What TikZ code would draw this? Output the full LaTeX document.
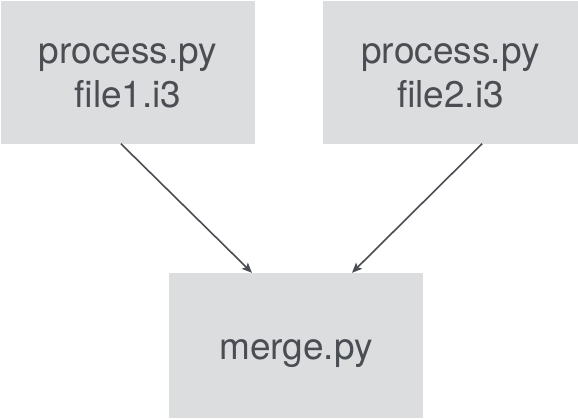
\documentclass[tikz,border=0pt]{standalone}
\usepackage{fontspec}
\setmainfont{TeX Gyre Heros}
\usetikzlibrary{arrows.meta,calc}
\definecolor{boxfill}{HTML}{DCDDDF}
\definecolor{ink}{HTML}{4A4D52}
\tikzset{
  box/.style={rectangle, fill=boxfill, draw=none, inner sep=0pt},
  txt/.style={inner sep=0pt, align=center, text=ink, font=\fontsize{37}{44}\selectfont},
  conn/.style={draw=ink, line width=1.6pt, -{Stealth[length=10pt,width=8.5pt,inset=2pt]}}
}
\begin{document}
\begin{tikzpicture}[x=1pt,y=-1pt]
  \useasboundingbox (0,0) rectangle (578,418);
  \node[box, minimum width=254pt, minimum height=143pt,
        label={[txt, yshift=-3.5pt]center:process.py\\file1.i3}] (a) at (128,72) {};
  \node[box, minimum width=255pt, minimum height=143pt,
        label={[txt, yshift=-3.5pt]center:process.py\\file2.i3}] (b) at (450.5,72) {};
  \node[box, minimum width=254pt, minimum height=145pt,
        label={[txt, yshift=-8.4pt]center:merge.py}] (m) at (296,345.5) {};
  \draw[conn] ($(a.south west)!0.472!(a.south east)$) -- ($(m.north west)!0.327!(m.north east)$);
  \draw[conn] ($(b.south west)!0.624!(b.south east)$) -- ($(m.north west)!0.72!(m.north east)$);
\end{tikzpicture}
\end{document}
